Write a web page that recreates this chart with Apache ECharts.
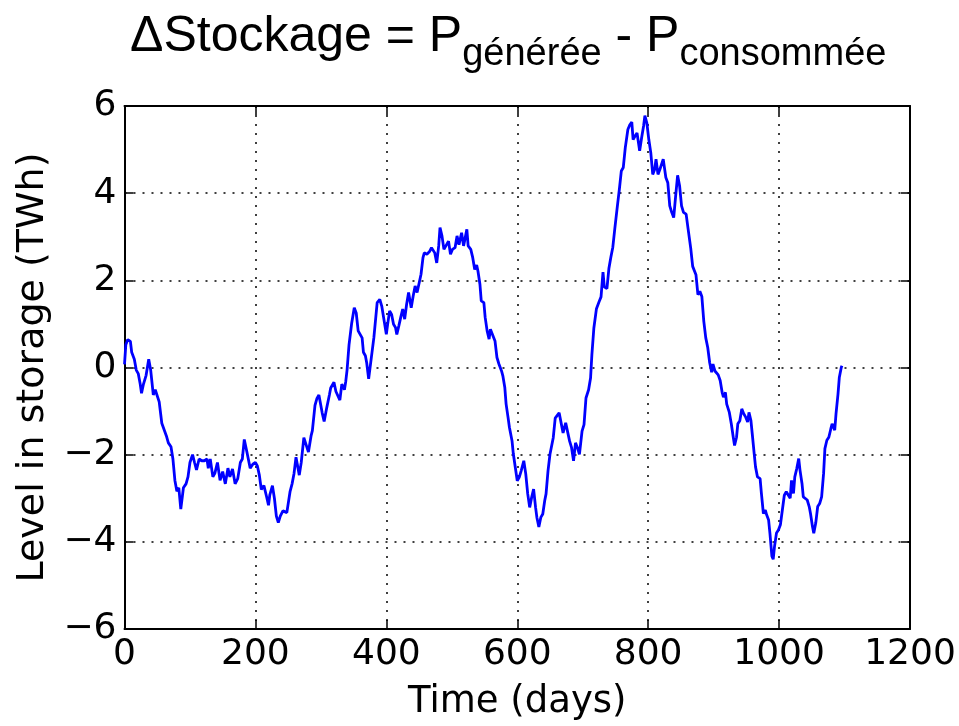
<!DOCTYPE html>
<html>
<head>
<meta charset="utf-8">
<script src="https://cdn.jsdelivr.net/npm/echarts@6/dist/echarts.min.js"></script>
<style>
html,body{margin:0;padding:0;background:#fff;}
#chart{width:959px;height:726px;}
</style>
</head>
<body>
<div id="chart"></div>
<script>
// Time (days)
const days = [
0,2,5,9,11,14,15,18,21,24,26,29,33,37,40,44,47,50,53,57,60,64,67,71,74,77,80,83,86,90,
94,97,100,104,107,110,114,118,122,126,128,131,135,138,142,146,150,154,158,161,165,169,173,177,180,183,187,192,196,200,
203,206,209,213,217,220,222,226,229,232,235,238,242,248,250,253,256,259,262,264,267,270,274,277,281,285,287,291,294,297,
300,302,305,309,313,315,317,320,323,325,329,332,336,338,340,343,347,351,354,357,360,363,365,368,370,373,
376,381,386,390,393,396,400,402,405,408,411,414,416,419,422,425,428,431,434,438,441,444,447,450,453,456,458,462,466,469,
472,474,477,480,482,485,488,491,495,498,501,505,508,511,515,518,520,523,525,529,532,535,538,540,543,545,549,551,554,557,
559,562,566,569,572,576,578,581,583,586,588,592,594,597,600,603,606,610,613,616,619,622,625,628,630,633,636,639,642,644,
647,650,655,658,661,664,667,670,674,677,680,683,686,689,692,695,699,702,705,709,712,714,717,721,725,728,731,733,737,740,
743,746,749,753,756,759,762,765,769,772,775,777,780,783,787,790,793,795,798,801,804,807,810,812,815,818,821,823,827,830,
833,836,839,842,845,848,851,854,858,861,
865,868,870,873,876,879,882,885,888,891,894,897,899,902,904,907,910,913,915,918,920,924,927,930,932,935,937,940,943,946,
949,952,954,957,959,962,964,967,971,973,976,979,981,984,986,989,991,993,996,999,1002,1005,1008,1011,1014,1017,1019,1022,1024,1027,
1030,1032,1035,1037,1040,1043,1046,1048,1051,1053,1056,1059,1062,1065,1068,1070,1073,1076,1079,1081,1085,1087,1090,1092,1095,1096
];
// Level in storage (TWh)
const level = [
0.07,0.52,0.64,0.60,0.35,0.31,0.19,-0.06,-0.14,-0.38,-0.59,-0.38,-0.18,0.19,-0.06,-0.63,-0.51,-0.55,-0.79,-1.28,-1.32,-1.57,-1.73,-1.82,-2.10,-2.59,-2.84,-2.76,-3.25,-2.76,
-2.67,-2.51,-2.18,-2.00,-2.18,-2.35,-2.10,-2.14,-2.14,-2.10,-2.31,-2.10,-2.51,-2.43,-2.18,-2.59,-2.39,-2.67,-2.31,-2.51,-2.33,-2.67,-2.55,-2.18,-2.10,-1.65,-1.94,-2.31,-2.22,-2.18,
-2.26,-2.47,-2.80,-2.71,-2.96,-3.16,-2.92,-2.71,-3.00,-3.41,-3.56,-3.41,-3.29,-3.33,-3.37,-2.84,-2.67,-2.43,-2.06,-2.22,-2.47,-2.18,-1.61,-1.57,-1.94,-1.57,-1.45,-0.87,-0.71,-0.63,
-0.63,-1.04,-1.24,-0.92,-0.63,-0.47,-0.51,-0.34,-0.55,-0.55,-0.75,-0.38,-0.51,-0.32,-0.06,0.52,1.01,1.37,1.25,0.84,0.76,0.68,0.35,0.27,0.11,-0.26,
-0.23,0.69,1.49,1.56,1.41,1.37,0.76,0.99,1.30,1.22,0.99,0.92,0.76,0.95,1.15,1.34,1.11,1.45,1.72,1.37,1.64,1.87,1.72,1.76,2.14,2.52,2.63,2.60,2.66,2.75,
2.79,2.63,2.40,2.79,3.21,3.02,2.71,2.79,2.90,2.60,2.71,2.75,3.02,2.82,3.09,2.79,2.94,3.17,2.79,2.71,2.52,2.25,2.35,2.21,1.91,1.53,1.49,1.15,0.84,0.65,
0.88,0.88,0.61,0.23,0.08,-0.08,-0.19,-0.46,-0.84,-1.15,-1.37,-1.68,-1.98,-2.29,-2.60,-2.52,-2.37,-2.14,-2.44,-2.90,-3.21,-2.98,-2.79,-3.21,-3.44,-3.66,-3.44,-3.36,-3.05,-2.90,
-2.37,-1.99,-1.61,-1.16,-1.12,-1.04,-1.00,-1.50,-1.27,-1.23,-1.69,-1.84,-2.14,-1.73,-1.84,-1.99,-1.46,-1.31,-0.70,-0.51,-0.24,0.29,0.90,1.35,1.51,1.62,2.19,1.85,1.81,2.27,
2.53,2.76,3.18,3.71,4.09,4.51,4.59,5.04,5.46,5.57,5.63,5.23,5.31,5.38,4.97,5.27,5.54,5.78,5.61,5.23,4.93,4.43,4.55,4.78,4.43,4.55,4.51,4.78,4.36,4.24,
3.71,3.56,3.44,3.94,4.41,4.17,3.71,3.56,3.52,3.18,
2.74,2.32,2.36,2.13,1.67,1.75,1.63,1.06,0.68,0.46,0.11,-0.11,0.08,-0.08,-0.11,-0.17,-0.30,-0.57,-0.68,-0.57,-0.84,-1.03,-1.29,-1.60,-1.79,-1.60,-1.29,-1.22,-0.95,-1.06,
-1.14,-1.25,-1.03,-1.22,-1.52,-1.98,-2.28,-2.51,-2.55,-2.89,-3.35,-3.27,-3.38,-3.50,-3.80,-4.33,-4.40,-4.11,-3.80,-3.73,-3.61,-3.27,-2.93,-2.85,-2.81,-3.00,-2.59,-2.89,-2.51,-2.32,
-2.09,-2.36,-2.66,-2.97,-3.00,-3.04,-3.19,-3.35,-3.65,-3.80,-3.57,-3.19,-3.12,-2.97,-2.43,-1.86,-1.67,-1.60,-1.41,-1.29,-1.44,-1.06,-0.61,-0.23,0.00,0.04
];
const xRange = [0, 1200];
const xStep = 200;
const yRange = [-6, 6];
const yStep = 2;
const xTitle = 'Time (days)';
const yTitle = 'Level in storage (TWh)';
const titleMain1 = 'ΔStockage = P';
const titleSub1 = 'générée';
const titleMain2 = ' - P';
const titleSub2 = 'consommée';

const pts = days.map((d, i) => [d, level[i]]);
const fmtNum = v => (v < 0 ? '\u2212' + Math.abs(v) : String(v));
const tickFont = "'DejaVu Sans', sans-serif";

const chart = echarts.init(document.getElementById('chart'), null, {renderer: 'canvas'});
const frameLine = {show: true, onZero: false, lineStyle: {color: '#000', width: 2}};
const tickIn = {show: true, inside: true, length: 9, lineStyle: {color: '#000', width: 1.5}};
const dotted = {show: true, lineStyle: {color: '#000', width: 1.5, type: [2, 7]}};

chart.setOption({
  animation: false,
  backgroundColor: '#fff',
  title: {
    text: '{m|' + titleMain1 + '}{s|' + titleSub1 + '}{m|' + titleMain2 + '}{s|' + titleSub2 + '}',
    left: 130,
    top: 12,
    padding: 0,
    textStyle: {
      fontWeight: 'normal',
      rich: {
        m: {fontSize: 50, fontWeight: 'normal', fontFamily: "'Liberation Sans', Arial, sans-serif", color: '#000', lineHeight: 56, verticalAlign: 'top'},
        s: {fontSize: 38, fontWeight: 'normal', fontFamily: "'Liberation Sans Narrow', 'Liberation Sans', Arial, sans-serif", color: '#000', lineHeight: 44, padding: [24, 0, 0, 0], verticalAlign: 'top'}
      }
    }
  },
  grid: {left: 124.5, right: 49, top: 106, bottom: 94, containLabel: false},
  xAxis: [{
    type: 'value', min: xRange[0], max: xRange[1], interval: xStep,
    name: xTitle, nameLocation: 'middle', nameGap: 55,
    nameTextStyle: {fontSize: 37, fontFamily: tickFont, color: '#000'},
    axisLine: frameLine, axisTick: tickIn, splitLine: dotted,
    axisLabel: {fontSize: 36, fontFamily: tickFont, color: '#000', margin: 8, formatter: fmtNum}
  }, {
    type: 'value', position: 'top', min: xRange[0], max: xRange[1], interval: xStep,
    axisLine: frameLine, axisTick: tickIn, splitLine: {show: false}, axisLabel: {show: false}
  }],
  yAxis: [{
    type: 'value', min: yRange[0], max: yRange[1], interval: yStep,
    name: yTitle, nameLocation: 'middle', nameGap: 54,
    nameTextStyle: {fontSize: 38, fontFamily: tickFont, color: '#000'},
    axisLine: frameLine, axisTick: tickIn, splitLine: dotted,
    axisLabel: {fontSize: 36, fontFamily: tickFont, color: '#000', margin: 8, formatter: fmtNum}
  }, {
    type: 'value', position: 'right', min: yRange[0], max: yRange[1], interval: yStep,
    axisLine: frameLine, axisTick: tickIn, splitLine: {show: false}, axisLabel: {show: false}
  }],
  series: [{
    type: 'line', xAxisIndex: 0, yAxisIndex: 0, data: pts,
    showSymbol: false, symbol: 'none', smooth: false,
    lineStyle: {color: '#0000ff', width: 2.8}
  }]
});
</script>
</body>
</html>
